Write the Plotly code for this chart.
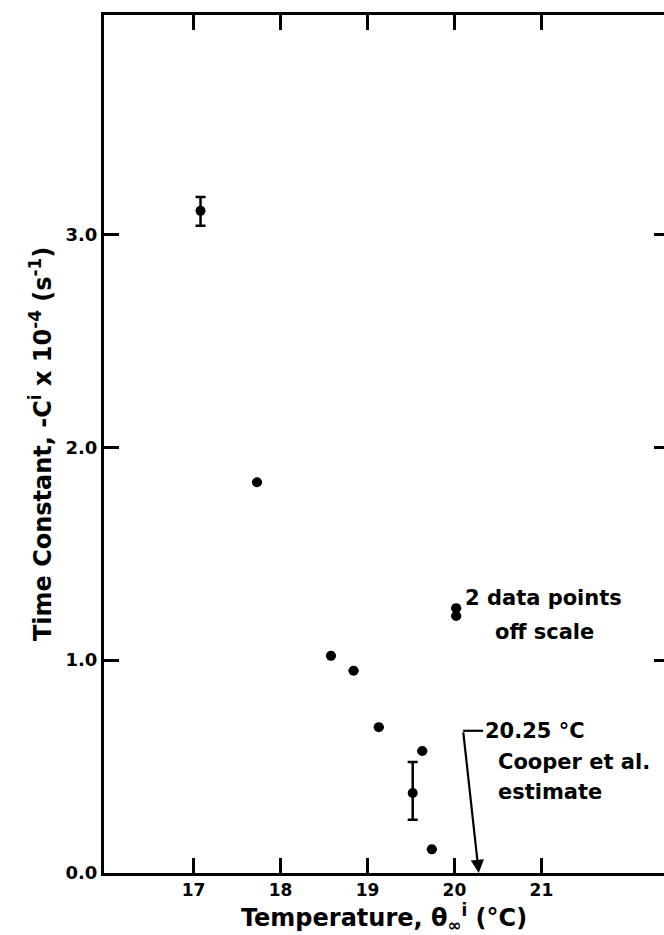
import plotly.graph_objects as go

# ---- data ----
temp = [17.08, 17.73, 18.58, 18.84, 19.13, 19.52, 19.63, 19.74, 20.02, 20.02]
tconst = [3.11, 1.835, 1.02, 0.95, 0.685, 0.376, 0.573, 0.111, 1.244, 1.207]
err_plus = [0.065, 0, 0, 0, 0, 0.145, 0, 0, 0, 0]
err_minus = [0.07, 0, 0, 0, 0, 0.126, 0, 0, 0, 0]

x_ticks = [17, 18, 19, 20, 21]
y_ticks = [0, 1, 2, 3]
y_ticklabels = ["0.0", "1.0", "2.0", "3.0"]

cooper_estimate = 20.25
x_range = [15.97, 22.41]
y_range = [0, 4.03]

FONT = "DejaVu Sans"

fig = go.Figure()
fig.add_trace(go.Scatter(
    x=temp, y=tconst, mode="markers",
    marker=dict(color="black", size=10),
    error_y=dict(type="data", symmetric=False, array=err_plus, arrayminus=err_minus,
                 color="black", thickness=2.5, width=5),
    showlegend=False, hoverinfo="skip"))

# invisible trace for right-hand ticks
fig.add_trace(go.Scatter(x=[x_range[0]], y=[0], yaxis="y2", mode="markers",
                         marker=dict(opacity=0), showlegend=False, hoverinfo="skip"))

# Cooper et al. estimate arrow
corner_x, corner_y = 20.10, 0.668
fig.add_annotation(x=cooper_estimate + 0.03, y=0.0, ax=corner_x, ay=corner_y,
                   xref="x", yref="y", axref="x", ayref="y",
                   text="", showarrow=True, arrowhead=2, arrowsize=1.2,
                   arrowwidth=2.2, arrowcolor="black", standoff=0)
fig.add_shape(type="line", x0=corner_x, x1=20.33, y0=corner_y, y1=corner_y,
              xref="x", yref="y", line=dict(color="black", width=2.2))

ann_font = dict(family=FONT, size=21, color="black", weight="bold")
fig.add_annotation(x=20.33, y=corner_y, xref="x", yref="y", xanchor="left", yanchor="middle",
                   text="20.25 °C", showarrow=False, font=ann_font)
fig.add_annotation(x=20.48, y=0.52, xref="x", yref="y", xanchor="left", yanchor="middle",
                   text="Cooper et al.", showarrow=False, font=ann_font)
fig.add_annotation(x=20.48, y=0.38, xref="x", yref="y", xanchor="left", yanchor="middle",
                   text="estimate", showarrow=False, font=ann_font)
fig.add_annotation(x=20.10, y=1.29, xref="x", yref="y", xanchor="left", yanchor="middle",
                   text="2 data points", showarrow=False, font=ann_font)
fig.add_annotation(x=20.44, y=1.13, xref="x", yref="y", xanchor="left", yanchor="middle",
                   text="off scale", showarrow=False, font=ann_font)

fig.update_layout(
    width=664, height=935,
    margin=dict(l=104, r=0, t=15, b=62),
    paper_bgcolor="white", plot_bgcolor="white",
    xaxis=dict(range=x_range, tickvals=x_ticks, ticktext=[str(t) for t in x_ticks],
               ticks="inside", ticklen=15, tickwidth=2.5, tickcolor="black",
               showline=True, linewidth=3, linecolor="black", mirror="ticks",
               showgrid=False, zeroline=False,
               tickfont=dict(family=FONT, size=17, color="black", weight="bold"),
               title=dict(text="Temperature, θ<sub>∞</sub><sup>i</sup> (°C)", standoff=2,
                          font=dict(family=FONT, size=24, color="black", weight="bold"))),
    yaxis=dict(range=y_range, tickvals=y_ticks, ticktext=y_ticklabels,
               ticks="inside", ticklen=15, tickwidth=2.5, tickcolor="black",
               showline=True, linewidth=3, linecolor="black", mirror=False,
               showgrid=False, zeroline=False,
               tickfont=dict(family=FONT, size=18, color="black", weight="bold"),
               title=dict(text="Time Constant, -C<sup>i</sup> x 10<sup>-4</sup> (s<sup>-1</sup>)",
                          standoff=8,
                          font=dict(family=FONT, size=24, color="black", weight="bold"))),
    yaxis2=dict(range=y_range, tickvals=[1, 2, 3], overlaying="y", side="right",
                ticks="inside", ticklen=10, tickwidth=2.5, tickcolor="black",
                showline=False, showgrid=False, zeroline=False, showticklabels=False),
)

fig.write_html("out.html")
